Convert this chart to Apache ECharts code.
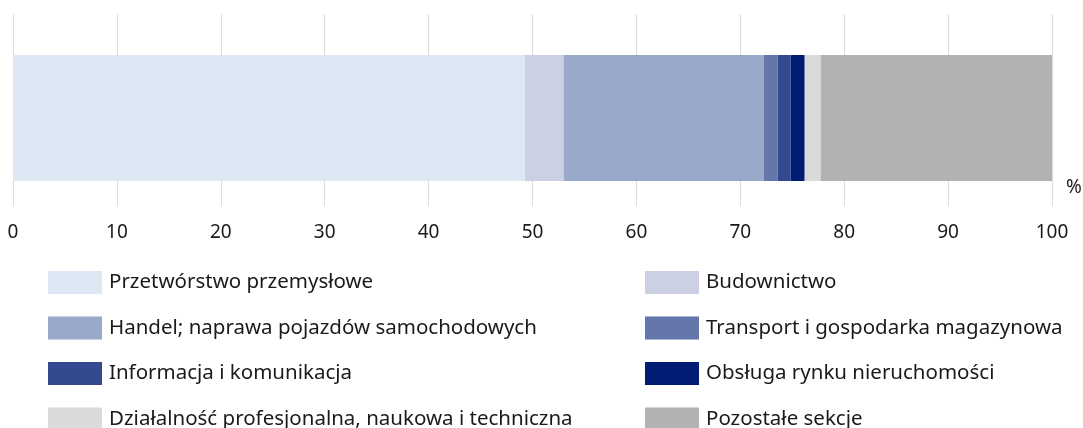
<!DOCTYPE html>
<html>
<head>
    <title>Struktura sekcji</title>
    <meta charset="utf-8" />
    <script src="https://cdn.jsdelivr.net/npm/echarts@6/dist/echarts.min.js"></script>
    <style type="text/css">
        html,
        body {
            width: 100%;
            height: 100%;
            margin: 0;
            background: #fff;
        }

        #main {
            width: 1083px;
            height: 428px;
        }
    </style>
</head>

<body>
    <div id="main"></div>
    <script>
        // dane
        var categories = ['2023'];
        var seriesNames = [
            'Przetwórstwo przemysłowe',
            'Budownictwo',
            'Handel; naprawa pojazdów samochodowych',
            'Transport i gospodarka magazynowa',
            'Informacja i komunikacja',
            'Obsługa rynku nieruchomości',
            'Działalność profesjonalna, naukowa i techniczna',
            'Pozostałe sekcje'
        ];
        var seriesValues = [49.25, 3.75, 19.25, 1.35, 1.25, 1.35, 1.54, 22.26];
        var colors = ['#dde8f4', '#cbd0e3', '#9aa8ca', '#6576ab', '#334a91', '#001d73', '#dadada', '#b2b2b2'];
        var leftLegend = [seriesNames[0], seriesNames[2], seriesNames[4], seriesNames[6]];
        var rightLegend = [seriesNames[1], seriesNames[3], seriesNames[5], seriesNames[7]];

        var font = 'Noto Sans';
        var gridColor = '#dcdcdc';

        var myChart = echarts.init(document.getElementById('main'));

        var legendBase = {
            orient: 'vertical',
            top: 271,
            height: 300,
            padding: 0,
            itemWidth: 54,
            itemHeight: 23,
            itemGap: 22.5,
            icon: 'rect',
            selectedMode: false,
            textStyle: {
                fontFamily: font,
                fontSize: 20.5,
                color: '#1a1a1a',
                padding: [0, 0, 0, 2]
            }
        };

        var series = seriesNames.map(function (name, i) {
            return {
                name: name,
                type: 'bar',
                stack: 'total',
                barWidth: 126,
                itemStyle: { color: colors[i] },
                emphasis: { disabled: true },
                data: [seriesValues[i]]
            };
        });

        var option = {
            animation: false,
            color: colors,
            legend: [
                Object.assign({}, legendBase, { left: 48, data: leftLegend }),
                Object.assign({}, legendBase, { left: 645, data: rightLegend })
            ],
            grid: {
                left: 13,
                right: 31,
                top: 30,
                bottom: 222
            },
            xAxis: [{
                type: 'value',
                min: 0,
                max: 100,
                interval: 10,
                name: '%',
                nameLocation: 'end',
                nameGap: 14,
                nameTextStyle: {
                    fontFamily: font,
                    fontSize: 19,
                    color: '#1a1a1a',
                    verticalAlign: 'bottom',
                    padding: [0, 0, 9, 0]
                },
                axisLine: { show: false },
                axisTick: { show: false },
                axisLabel: {
                    margin: 17,
                    fontFamily: font,
                    fontSize: 19,
                    color: '#1a1a1a'
                },
                splitLine: {
                    show: true,
                    lineStyle: { color: gridColor, width: 1 }
                }
            }, {
                // górne przedłużenie linii siatki
                type: 'value',
                position: 'top',
                min: 0,
                max: 100,
                interval: 10,
                axisLine: { show: false },
                axisLabel: { show: false },
                splitLine: { show: false },
                axisTick: {
                    show: true,
                    length: 16,
                    lineStyle: { color: gridColor, width: 1 }
                }
            }],
            yAxis: {
                type: 'category',
                data: categories,
                axisLine: { show: false },
                axisTick: { show: false },
                axisLabel: { show: false }
            },
            series: series
        };

        myChart.setOption(option);
    </script>
</body>
</html>
